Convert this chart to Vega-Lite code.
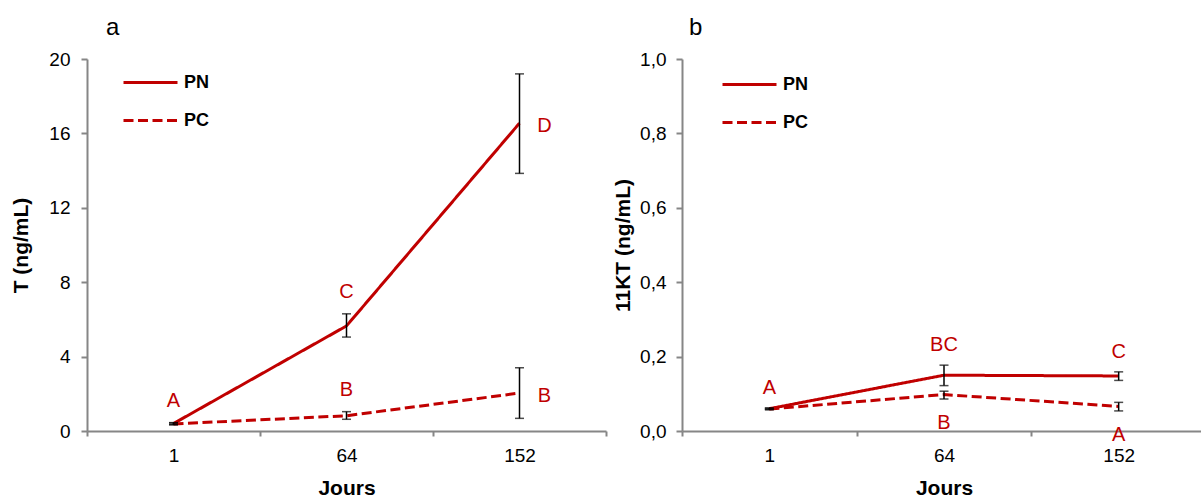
{
  "$schema": "https://vega.github.io/schema/vega-lite/v6.json",
  "padding": {"left": 10, "top": 16, "right": 0, "bottom": 0},
  "background": "white",
  "spacing": 5,
  "config": {
    "font": "Liberation Sans",
    "view": {"stroke": null},
    "axis": {"grid": false, "domainColor": "#868686", "domainWidth": 2, "tickColor": "#868686", "tickWidth": 2, "labelColor": "#000000", "labelFontSize": 19, "labelFont": "Liberation Sans", "titleFont": "Liberation Sans", "titleFontSize": 21, "titleFontWeight": "bold", "titleColor": "#000000"},
    "title": {"font": "Liberation Sans", "fontSize": 24, "fontWeight": "normal", "color": "#000000", "anchor": "start", "frame": "group"}
  },
  "datasets": {
    "a": [
      {"series": "PN", "day": 1, "value": 0.4, "lo": 0.35, "hi": 0.45, "letter": "A"},
      {"series": "PN", "day": 64, "value": 5.65, "lo": 5.05, "hi": 6.3, "letter": "C"},
      {"series": "PN", "day": 152, "value": 16.55, "lo": 13.85, "hi": 19.2, "letter": "D"},
      {"series": "PC", "day": 1, "value": 0.38, "lo": 0.33, "hi": 0.43, "letter": ""},
      {"series": "PC", "day": 64, "value": 0.82, "lo": 0.63, "hi": 1.04, "letter": "B"},
      {"series": "PC", "day": 152, "value": 2.04, "lo": 0.68, "hi": 3.4, "letter": "B"}
    ],
    "b": [
      {"series": "PN", "day": 1, "value": 0.06, "lo": 0.058, "hi": 0.062, "letter": "A"},
      {"series": "PN", "day": 64, "value": 0.15, "lo": 0.122, "hi": 0.177, "letter": "BC"},
      {"series": "PN", "day": 152, "value": 0.148, "lo": 0.136, "hi": 0.159, "letter": "C"},
      {"series": "PC", "day": 1, "value": 0.059, "lo": 0.057, "hi": 0.061, "letter": ""},
      {"series": "PC", "day": 64, "value": 0.098, "lo": 0.086, "hi": 0.107, "letter": "B"},
      {"series": "PC", "day": 152, "value": 0.066, "lo": 0.054, "hi": 0.077, "letter": "A"}
    ]
  },
  "hconcat": [
    {
      "width": 519,
      "height": 372,
      "title": {"text": "a", "dx": 19, "offset": 10},
      "data": {"name": "a"},
      "encoding": {
        "x": {"field": "day", "type": "ordinal", "sort": "ascending", "scale": {"type": "band", "paddingInner": 0, "paddingOuter": 0}, "axis": {"title": "Jours", "labelAngle": 0, "tickBand": "extent", "tickSize": 5, "labelPadding": 10, "titlePadding": 12}}
      },
      "layer": [
        {
          "mark": {"type": "line", "color": "#C00000", "strokeWidth": 3, "strokeCap": "butt"},
          "encoding": {
            "y": {"field": "value", "type": "quantitative", "title": "T (ng/mL)", "scale": {"domain": [0, 20]}, "axis": {"values": [0, 4, 8, 12, 16, 20], "tickSize": 6, "labelPadding": 11, "titlePadding": 17}},
            "strokeDash": {"field": "series", "type": "nominal", "scale": {"domain": ["PN", "PC"], "range": [[1, 0], [10, 4.5]]},
              "legend": {"title": null, "orient": "none", "direction": "vertical", "legendX": 35, "legendY": -5, "symbolType": "stroke", "symbolSize": 2916, "symbolStrokeWidth": 3, "symbolStrokeColor": "#C00000", "labelFontSize": 18, "labelFontWeight": "bold", "labelColor": "#000000", "labelOffset": 5, "rowPadding": -14, "padding": 0}}
          }
        },
        {
          "mark": {"type": "rule", "color": "#000000", "strokeWidth": 1.5},
          "encoding": {
            "y": {"field": "lo", "type": "quantitative", "title": "T (ng/mL)", "scale": {"domain": [0, 20]}},
            "y2": {"field": "hi"}
          }
        },
        {
          "mark": {"type": "tick", "orient": "horizontal", "color": "#000000", "size": 9, "thickness": 1.5},
          "encoding": {"y": {"field": "lo", "type": "quantitative", "title": "T (ng/mL)", "scale": {"domain": [0, 20]}}}
        },
        {
          "mark": {"type": "tick", "orient": "horizontal", "color": "#000000", "size": 9, "thickness": 1.5},
          "encoding": {"y": {"field": "hi", "type": "quantitative", "title": "T (ng/mL)", "scale": {"domain": [0, 20]}}}
        },
        {
          "transform": [{"filter": "datum.letter != '' && datum.day != 152"}],
          "mark": {"type": "text", "color": "#C00000", "fontSize": 20, "dy": -22},
          "encoding": {
            "y": {"field": "hi", "type": "quantitative", "title": "T (ng/mL)", "scale": {"domain": [0, 20]}},
            "text": {"field": "letter"}
          }
        },
        {
          "transform": [{"filter": "datum.letter != '' && datum.day == 152"}],
          "mark": {"type": "text", "color": "#C00000", "fontSize": 20, "dx": 25, "dy": 3},
          "encoding": {
            "y": {"field": "value", "type": "quantitative", "title": "T (ng/mL)", "scale": {"domain": [0, 20]}},
            "text": {"field": "letter"}
          }
        }
      ]
    },
    {
      "width": 524,
      "height": 372,
      "title": {"text": "b", "dx": 7, "offset": 10},
      "data": {"name": "b"},
      "encoding": {
        "x": {"field": "day", "type": "ordinal", "sort": "ascending", "scale": {"type": "band", "paddingInner": 0, "paddingOuter": 0}, "axis": {"title": "Jours", "labelAngle": 0, "tickBand": "extent", "tickSize": 5, "labelPadding": 10, "titlePadding": 12}}
      },
      "layer": [
        {
          "mark": {"type": "line", "color": "#C00000", "strokeWidth": 3, "strokeCap": "butt"},
          "encoding": {
            "y": {"field": "value", "type": "quantitative", "title": "11KT (ng/mL)", "scale": {"domain": [0, 1]}, "axis": {"values": [0, 0.2, 0.4, 0.6, 0.8, 1], "labelExpr": "replace(format(datum.value, '.1f'), '.', ',')", "tickSize": 6, "labelPadding": 10, "titlePadding": 6}},
            "strokeDash": {"field": "series", "type": "nominal", "scale": {"domain": ["PN", "PC"], "range": [[1, 0], [10, 4.5]]},
              "legend": {"title": null, "orient": "none", "direction": "vertical", "legendX": 39, "legendY": -3, "symbolType": "stroke", "symbolSize": 2916, "symbolStrokeWidth": 3, "symbolStrokeColor": "#C00000", "labelFontSize": 18, "labelFontWeight": "bold", "labelColor": "#000000", "labelOffset": 5, "rowPadding": -14, "padding": 0}}
          }
        },
        {
          "mark": {"type": "rule", "color": "#000000", "strokeWidth": 1.5},
          "encoding": {
            "y": {"field": "lo", "type": "quantitative", "title": "11KT (ng/mL)", "scale": {"domain": [0, 1]}},
            "y2": {"field": "hi"}
          }
        },
        {
          "mark": {"type": "tick", "orient": "horizontal", "color": "#000000", "size": 9, "thickness": 1.5},
          "encoding": {"y": {"field": "lo", "type": "quantitative", "title": "11KT (ng/mL)", "scale": {"domain": [0, 1]}}}
        },
        {
          "mark": {"type": "tick", "orient": "horizontal", "color": "#000000", "size": 9, "thickness": 1.5},
          "encoding": {"y": {"field": "hi", "type": "quantitative", "title": "11KT (ng/mL)", "scale": {"domain": [0, 1]}}}
        },
        {
          "transform": [{"filter": "datum.letter != '' && datum.series == 'PN'"}],
          "mark": {"type": "text", "color": "#C00000", "fontSize": 20, "dy": -20},
          "encoding": {
            "y": {"field": "hi", "type": "quantitative", "title": "11KT (ng/mL)", "scale": {"domain": [0, 1]}},
            "text": {"field": "letter"}
          }
        },
        {
          "transform": [{"filter": "datum.letter != '' && datum.series == 'PC'"}],
          "mark": {"type": "text", "color": "#C00000", "fontSize": 20, "dy": 24},
          "encoding": {
            "y": {"field": "lo", "type": "quantitative", "title": "11KT (ng/mL)", "scale": {"domain": [0, 1]}},
            "text": {"field": "letter"}
          }
        }
      ]
    }
  ],
  "resolve": {"scale": {"strokeDash": "independent"}, "legend": {"strokeDash": "independent"}}
}
